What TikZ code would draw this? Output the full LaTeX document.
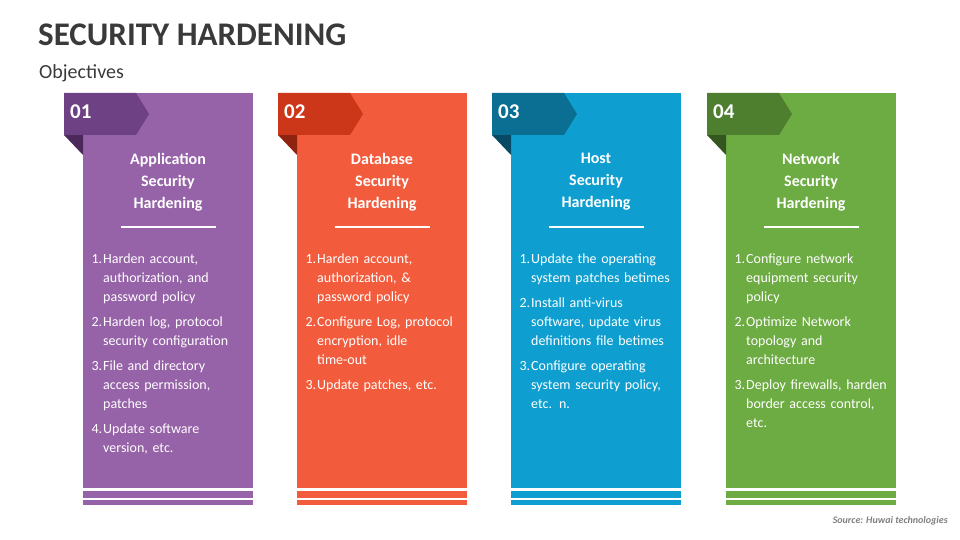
\documentclass[tikz,border=0pt]{standalone}
\usepackage{fontspec}
\setmainfont{Carlito}
\definecolor{appbody}{HTML}{9662A8}
\definecolor{apptab}{HTML}{6D4183}
\definecolor{appfold}{HTML}{4B2A5B}
\definecolor{dbbody}{HTML}{F25C3D}
\definecolor{dbtab}{HTML}{CC3719}
\definecolor{dbfold}{HTML}{8E2410}
\definecolor{hostbody}{HTML}{0E9FD0}
\definecolor{hosttab}{HTML}{0B6F93}
\definecolor{hostfold}{HTML}{074A63}
\definecolor{netbody}{HTML}{6DAB43}
\definecolor{nettab}{HTML}{4E7F2F}
\definecolor{netfold}{HTML}{34561F}
\definecolor{titlegray}{HTML}{3A3A3A}
\tikzset{
  heading/.style={text=white,font=\bfseries\fontsize{16}{22}\selectfont,align=center,inner sep=0pt},
  numtext/.style={text=white,font=\bfseries\fontsize{21}{24}\selectfont,anchor=west,inner sep=0pt},
  listbox/.style={text=white,anchor=north west,inner sep=0pt,text width=156pt,
    font=\fontsize{14}{19}\selectfont}
}
\newenvironment{hardlist}{\begin{list}{\arabic{enumi}.}{\usecounter{enumi}\setlength{\leftmargin}{13pt}\setlength{\labelwidth}{12pt}\setlength{\labelsep}{1pt}\setlength{\itemsep}{6pt}\setlength{\parsep}{0pt}\setlength{\topsep}{0pt}}}{\end{list}}
% one column: x offset, name, heading, list
\newcommand{\hardcol}[5]{%
  \fill[#2body] (#1,93) rectangle (#1+170,488);
  \fill[#2body] (#1,491) rectangle (#1+170,498);
  \fill[#2body] (#1,500) rectangle (#1+170,505);
  \fill[#2fold] (#1-19,135) -- (#1,135) -- (#1,155) -- cycle;
  \fill[#2tab] (#1-19,93) -- (#1+53,93) -- (#1+66,114) -- (#1+53,135) -- (#1-19,135) -- cycle;
  \node[numtext] (#2num) at (#1-13,112) {#3};
  \node[heading] (#2head) at (#1+85,182) {#4};
  \draw[white,line width=1.2pt] (#1+38,227) -- (#1+133,227);
  \node[listbox] (#2list) at (#1+7,244) {\begin{hardlist}#5\end{hardlist}};
}
\begin{document}
\begin{tikzpicture}[x=1pt,y=-1pt]
\useasboundingbox (0,0) rectangle (960,540);
\node[anchor=west,text=titlegray,font=\bfseries\fontsize{33}{36}\selectfont,inner sep=0pt] (title) at (38,35) {SECURITY HARDENING};
\node[anchor=west,text=titlegray,font=\fontsize{20}{24}\selectfont,inner sep=0pt] (subtitle) at (39,73) {Objectives};
\hardcol{83}{app}{01}{Application\\Security\\Hardening}{%
  \item Harden account, authorization, and password policy
  \item Harden log, protocol security configuration
  \item File and directory access permission, patches
  \item Update software version, etc.}
\hardcol{297}{db}{02}{Database\\Security\\Hardening}{%
  \item Harden account, authorization, \& password policy
  \item Configure Log, protocol encryption, idle time-out
  \item Update patches, etc.}
\hardcol{511}{host}{03}{Host\\Security\\Hardening}{%
  \item Update the operating system patches betimes
  \item Install anti-virus software, update virus definitions file betimes
  \item Configure operating system security policy, etc. n.}
\hardcol{726}{net}{04}{Network\\Security\\Hardening}{%
  \item Configure network equipment security policy
  \item Optimize Network topology and architecture
  \item Deploy firewalls, harden border access control, etc.}
\node[anchor=east,text=gray,font=\bfseries\itshape\fontsize{10}{12}\selectfont,inner sep=0pt] (source) at (948,521) {Source: Huwai technologies};
\end{tikzpicture}
\end{document}
